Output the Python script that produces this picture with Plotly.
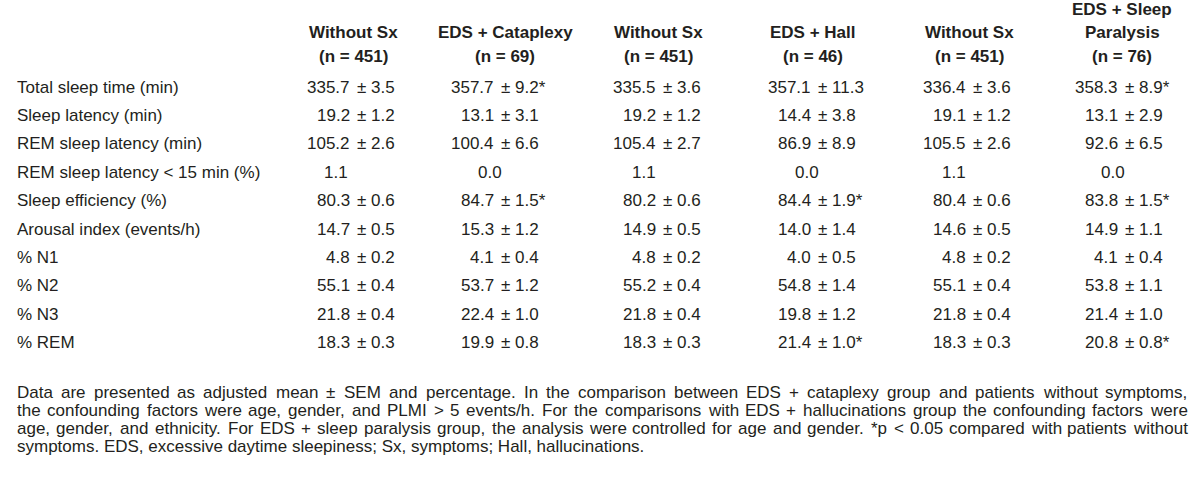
import plotly.graph_objects as go

# ---------------- data ----------------
row_labels = [
    "Total sleep time (min)", "Sleep latency (min)", "REM sleep latency (min)",
    "REM sleep latency < 15 min (%)", "Sleep efficiency (%)", "Arousal index (events/h)",
    "% N1", "% N2", "% N3", "% REM",
]
group_headers = [
    ["Without Sx", "(n = 451)"],
    ["EDS + Cataplexy", "(n = 69)"],
    ["Without Sx", "(n = 451)"],
    ["EDS + Hall", "(n = 46)"],
    ["Without Sx", "(n = 451)"],
    ["EDS + Sleep", "Paralysis", "(n = 76)"],
]
nosx_cat_mean = [335.7, 19.2, 105.2, 1.1, 80.3, 14.7, 4.8, 55.1, 21.8, 18.3]
nosx_cat_sem = [3.5, 1.2, 2.6, None, 0.6, 0.5, 0.2, 0.4, 0.4, 0.3]
cat_mean = [357.7, 13.1, 100.4, 0.0, 84.7, 15.3, 4.1, 53.7, 22.4, 19.9]
cat_sem = [9.2, 3.1, 6.6, None, 1.5, 1.2, 0.4, 1.2, 1.0, 0.8]
cat_sig = [1, 0, 0, 0, 1, 0, 0, 0, 0, 0]
nosx_hall_mean = [335.5, 19.2, 105.4, 1.1, 80.2, 14.9, 4.8, 55.2, 21.8, 18.3]
nosx_hall_sem = [3.6, 1.2, 2.7, None, 0.6, 0.5, 0.2, 0.4, 0.4, 0.3]
hall_mean = [357.1, 14.4, 86.9, 0.0, 84.4, 14.0, 4.0, 54.8, 19.8, 21.4]
hall_sem = [11.3, 3.8, 8.9, None, 1.9, 1.4, 0.5, 1.4, 1.2, 1.0]
hall_sig = [0, 0, 0, 0, 1, 0, 0, 0, 0, 1]
nosx_sp_mean = [336.4, 19.1, 105.5, 1.1, 80.4, 14.6, 4.8, 55.1, 21.8, 18.3]
nosx_sp_sem = [3.6, 1.2, 2.6, None, 0.6, 0.5, 0.2, 0.4, 0.4, 0.3]
sp_mean = [358.3, 13.1, 92.6, 0.0, 83.8, 14.9, 4.1, 53.8, 21.4, 20.8]
sp_sem = [8.9, 2.9, 6.5, None, 1.5, 1.1, 0.4, 1.1, 1.0, 0.8]
sp_sig = [1, 0, 0, 0, 1, 0, 0, 0, 0, 1]
no_sig = [0] * 10

footnote_lines = [
    "Data are presented as adjusted mean \u00b1 SEM and percentage. In the comparison between EDS + cataplexy group and patients without symptoms,",
    "the confounding factors were age, gender, and PLMI > 5 events/h. For the comparisons with EDS + hallucinations group the confounding factors were",
    "age, gender, and ethnicity. For EDS + sleep paralysis group, the analysis were controlled for age and gender. *p < 0.05 compared with patients without",
    "symptoms. EDS, excessive daytime sleepiness; Sx, symptoms; Hall, hallucinations.",
]

columns = [
    (nosx_cat_mean, nosx_cat_sem, no_sig),
    (cat_mean, cat_sem, cat_sig),
    (nosx_hall_mean, nosx_hall_sem, no_sig),
    (hall_mean, hall_sem, hall_sig),
    (nosx_sp_mean, nosx_sp_sem, no_sig),
    (sp_mean, sp_sem, sp_sig),
]

# ---------------- layout / style ----------------
W, H = 1200, 483
FONT = "Liberation Sans, Arial, Helvetica, sans-serif"
FS = 17
COLOR = "#231f20"
LABEL_X = 16
MEAN_RIGHT = [351, 495, 657, 812, 967, 1119]
SINGLE_SHIFT = [-2, 8, 0, 8, 0, 7]
HEADER_CX = [353, 505, 658, 813, 969, 1122]
HEADER_BOTTOM_Y = 56
HEADER_STEP = 23.5
ROW_Y0 = 87
ROW_STEP = 28.4
FOOT_Y0 = 392
FOOT_STEP = 18.3
FOOT_L, FOOT_R = 16, 1186

AW = {' ': 278, '!': 278, '"': 355, '#': 556, '$': 556, '%': 889, '&': 667, "'": 191,
      '(': 333, ')': 333, '*': 389, '+': 584, ',': 278, '-': 333, '.': 278, '/': 278,
      ':': 278, ';': 278, '<': 584, '=': 584, '>': 584, '?': 556, '\u00b1': 584,
      'A': 667, 'B': 667, 'C': 722, 'D': 722, 'E': 667, 'F': 611, 'G': 778, 'H': 722,
      'I': 278, 'J': 500, 'K': 667, 'L': 556, 'M': 833, 'N': 722, 'O': 778, 'P': 667,
      'Q': 778, 'R': 722, 'S': 667, 'T': 611, 'U': 722, 'V': 667, 'W': 944, 'X': 667,
      'Y': 667, 'Z': 611, 'a': 556, 'b': 556, 'c': 500, 'd': 556, 'e': 556, 'f': 278,
      'g': 556, 'h': 556, 'i': 222, 'j': 222, 'k': 500, 'l': 222, 'm': 833, 'n': 556,
      'o': 556, 'p': 556, 'q': 556, 'r': 333, 's': 500, 't': 278, 'u': 556, 'v': 500,
      'w': 722, 'x': 500, 'y': 500, 'z': 500}
for d in "0123456789":
    AW[d] = 556


def tw(s, size=FS):
    return sum(AW.get(ch, 556) for ch in s) * size / 1000.0


fig = go.Figure()
fig.add_trace(go.Scatter(x=[0, W], y=[0, H], mode="markers",
                         marker=dict(opacity=0), hoverinfo="skip", showlegend=False))

ann = []


def add(text, x, y, xanchor="left", bold=False, size=FS):
    ann.append(dict(text=("<b>%s</b>" % text) if bold else text, x=x, y=y, xref="x", yref="y",
                    xanchor=xanchor, yanchor="middle", showarrow=False, borderpad=0,
                    font=dict(family=FONT, size=size, color=COLOR)))


# headers
for c, lines in enumerate(group_headers):
    n = len(lines)
    for k, line in enumerate(lines):
        y = HEADER_BOTTOM_Y - HEADER_STEP * (n - 1 - k)
        add(line, HEADER_CX[c], y, xanchor="center", bold=True)

# row labels
for r, lab in enumerate(row_labels):
    add(lab, LABEL_X, ROW_Y0 + ROW_STEP * r)

# cells
space_w = tw(" ")
for c, (means, sems, sig) in enumerate(columns):
    for r in range(len(row_labels)):
        y = ROW_Y0 + ROW_STEP * r
        m = "%.1f" % means[r]
        if sems[r] is None:
            add(m, MEAN_RIGHT[c] + SINGLE_SHIFT[c], y, xanchor="right")
        else:
            add(m, MEAN_RIGHT[c], y, xanchor="right")
            rest = "\u00b1 %.1f" % sems[r] + ("*" if sig[r] else "")
            add(rest, MEAN_RIGHT[c] + space_w, y, xanchor="left")

# footnote (justified except the last line)
for i, line in enumerate(footnote_lines):
    y = FOOT_Y0 + FOOT_STEP * i
    words = line.split(" ")
    if i < len(footnote_lines) - 1 and len(words) > 1:
        widths = [tw(w) for w in words]
        gap = (FOOT_R - FOOT_L - sum(widths)) / (len(words) - 1)
        x = FOOT_L
        for w, wd in zip(words, widths):
            add(w, x, y)
            x += wd + gap
    else:
        add(line, FOOT_L, y)

fig.update_layout(
    width=W, height=H, margin=dict(l=0, r=0, t=0, b=0),
    paper_bgcolor="white", plot_bgcolor="white",
    xaxis=dict(range=[0, W], visible=False, fixedrange=True),
    yaxis=dict(range=[H, 0], visible=False, fixedrange=True),
    annotations=ann, showlegend=False,
)

fig.write_html("out.html", config={"displayModeBar": False},
               post_script="document.body.style.margin='0';document.body.style.overflow='hidden';")
